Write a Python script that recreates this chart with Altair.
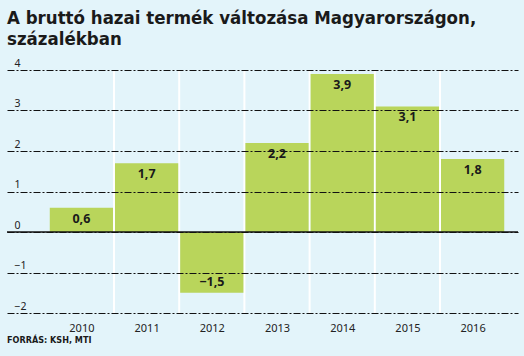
import altair as alt
import pandas as pd

years = [2010, 2011, 2012, 2013, 2014, 2015, 2016]
values = [0.6, 1.7, -1.5, 2.2, 3.9, 3.1, 1.8]
labels = ["0,6", "1,7", "\u22121,5", "2,2", "3,9", "3,1", "1,8"]
separators = [2010.5, 2011.5, 2012.5, 2013.5, 2014.5, 2015.5]
y_ticks = [-2, -1, 0, 1, 2, 3, 4]

title_lines = ["A bruttó hazai termék változása Magyarországon,", "százalékban"]
source_text = "FORRÁS: KSH, MTI"

BG = "#e3f4fa"
BAR = "#b9d55b"
TITLE_FONT = "DejaVu Sans Condensed"
FONT = "Noto Sans"

df = pd.DataFrame({"year": years, "value": values, "label": labels})
sep_df = pd.DataFrame({"x": separators})

xscale = alt.Scale(domain=[2008.859, 2016.696], nice=False, zero=False)
yscale = alt.Scale(domain=[-2, 4], nice=False)

xaxis = alt.Axis(values=years, format="d", grid=False, domain=False, ticks=False,
                 labelFont=FONT, labelFontSize=11, labelColor="#222",
                 labelPadding=9, labelFlush=False, title=None)
yaxis = alt.Axis(values=y_ticks, grid=True, gridColor="#111", gridWidth=1,
                 gridDash=[7, 2, 2, 2], domain=False, ticks=False,
                 labelAlign="left", labelBaseline="bottom", labelPadding=-7,
                 labelOffset=-2, labelFont=FONT, labelFontSize=10.5,
                 labelColor="#222", title=None, zindex=1)

base = alt.Chart(df)

seps = alt.Chart(sep_df).mark_rule(color="white", strokeWidth=2).encode(
    x=alt.X("x:Q", scale=xscale, axis=xaxis)
)

bars = base.transform_calculate(
    x0="datum.year - 0.485", x1="datum.year + 0.485"
).mark_rect(color=BAR).encode(
    x=alt.X("x0:Q", scale=xscale, axis=xaxis),
    x2="x1:Q",
    y=alt.Y("value:Q", scale=yscale, axis=yaxis),
    y2=alt.datum(0),
)

zero = alt.Chart(pd.DataFrame({"z": [0]})).mark_rule(color="#111", strokeWidth=1.5).encode(
    y=alt.Y("z:Q", scale=yscale, axis=yaxis)
)

pos_text = base.transform_filter("datum.value >= 0").mark_text(
    font=FONT, fontWeight="bold", fontSize=12.5, color="#1a1a1a", baseline="middle", dy=11
).encode(
    x=alt.X("year:Q", scale=xscale, axis=xaxis),
    y=alt.Y("value:Q", scale=yscale, axis=yaxis), text="label:N"
)

neg_text = base.transform_filter("datum.value < 0").mark_text(
    font=FONT, fontWeight="bold", fontSize=12.5, color="#1a1a1a", baseline="middle", dy=-11
).encode(
    x=alt.X("year:Q", scale=xscale, axis=xaxis),
    y=alt.Y("value:Q", scale=yscale, axis=yaxis), text="label:N"
)

source = alt.Chart(pd.DataFrame({"t": [source_text]})).mark_text(
    font=TITLE_FONT, fontWeight="bold", fontSize=9, color="#1a1a1a", align="left",
    baseline="alphabetic"
).encode(x=alt.value(0), y=alt.value(273), text="t:N")

chart = alt.layer(seps, bars, zero, pos_text, neg_text, source).properties(
    width=511, height=243,
    background=BG,
    padding={"left": 7, "right": 6, "top": 70, "bottom": 43},
    autosize=alt.AutoSizeParams(type="none"),
    title=alt.TitleParams(
        text=title_lines, anchor="start", frame="group", font=TITLE_FONT,
        fontSize=18.5, fontWeight="bold", color="#1a1a1a", lineHeight=21, offset=10,
    ),
).configure_view(stroke=None)

chart.save("out.html", embed_options={"renderer": "svg", "actions": False})
